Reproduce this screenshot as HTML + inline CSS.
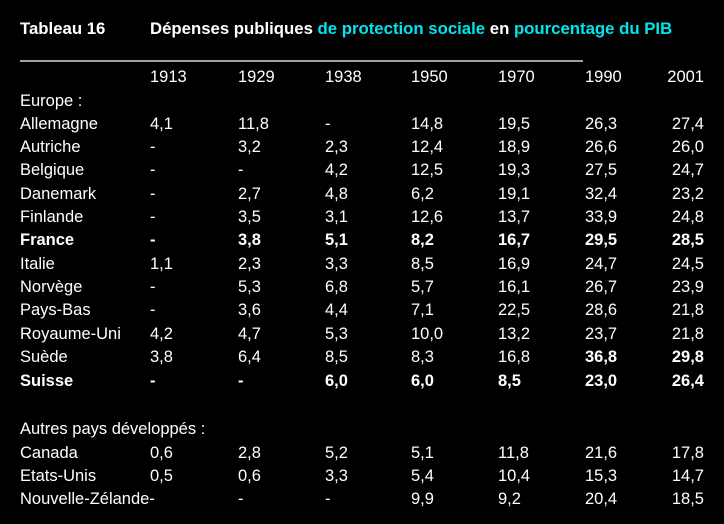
<!DOCTYPE html>
<html><head><meta charset="utf-8"><style>
body{margin:0;background:#000;width:724px;height:524px;overflow:hidden;position:relative;font-family:"Liberation Sans",Arial,sans-serif;font-size:16.5px;color:#fff}
.r{position:absolute;left:0;width:724px;height:20px;line-height:20px}
.r span{position:absolute;white-space:nowrap}
.b{font-weight:bold}
.c{color:#00e5ee}
.l{left:20px}.a{left:150px}.b1{left:238px}.c1{left:325px}.d{left:411px}.e{left:498px}.f{left:585px}.g{right:20px}
</style></head><body>
<div class="r b" style="top:19px;font-size:16.75px"><span class="l">Tableau 16</span><span class="a">Dépenses publiques <span class="c" style="position:static">de protection sociale</span> en <span class="c" style="position:static">pourcentage du PIB</span></span></div>
<div style="position:absolute;left:20px;top:60px;width:563px;height:2px;background:#a0a0a0"></div>
<div class="r" style="top:67px"><span class="a">1913</span><span class="b1">1929</span><span class="c1">1938</span><span class="d">1950</span><span class="e">1970</span><span class="f">1990</span><span class="g">2001</span></div>
<div class="r" style="top:91px"><span class="l">Europe :</span></div>
<div class="r" style="top:114px"><span class="l">Allemagne</span><span class="a">4,1</span><span class="b1">11,8</span><span class="c1">-</span><span class="d">14,8</span><span class="e">19,5</span><span class="f">26,3</span><span class="g">27,4</span></div>
<div class="r" style="top:137px"><span class="l">Autriche</span><span class="a">-</span><span class="b1">3,2</span><span class="c1">2,3</span><span class="d">12,4</span><span class="e">18,9</span><span class="f">26,6</span><span class="g">26,0</span></div>
<div class="r" style="top:160px"><span class="l">Belgique</span><span class="a">-</span><span class="b1">-</span><span class="c1">4,2</span><span class="d">12,5</span><span class="e">19,3</span><span class="f">27,5</span><span class="g">24,7</span></div>
<div class="r" style="top:184px"><span class="l">Danemark</span><span class="a">-</span><span class="b1">2,7</span><span class="c1">4,8</span><span class="d">6,2</span><span class="e">19,1</span><span class="f">32,4</span><span class="g">23,2</span></div>
<div class="r" style="top:207px"><span class="l">Finlande</span><span class="a">-</span><span class="b1">3,5</span><span class="c1">3,1</span><span class="d">12,6</span><span class="e">13,7</span><span class="f">33,9</span><span class="g">24,8</span></div>
<div class="r b" style="top:230px"><span class="l">France</span><span class="a">-</span><span class="b1">3,8</span><span class="c1">5,1</span><span class="d">8,2</span><span class="e">16,7</span><span class="f">29,5</span><span class="g">28,5</span></div>
<div class="r" style="top:254px"><span class="l">Italie</span><span class="a">1,1</span><span class="b1">2,3</span><span class="c1">3,3</span><span class="d">8,5</span><span class="e">16,9</span><span class="f">24,7</span><span class="g">24,5</span></div>
<div class="r" style="top:277px"><span class="l">Norvège</span><span class="a">-</span><span class="b1">5,3</span><span class="c1">6,8</span><span class="d">5,7</span><span class="e">16,1</span><span class="f">26,7</span><span class="g">23,9</span></div>
<div class="r" style="top:300px"><span class="l">Pays-Bas</span><span class="a">-</span><span class="b1">3,6</span><span class="c1">4,4</span><span class="d">7,1</span><span class="e">22,5</span><span class="f">28,6</span><span class="g">21,8</span></div>
<div class="r" style="top:324px"><span class="l">Royaume-Uni</span><span class="a">4,2</span><span class="b1">4,7</span><span class="c1">5,3</span><span class="d">10,0</span><span class="e">13,2</span><span class="f">23,7</span><span class="g">21,8</span></div>
<div class="r" style="top:347px"><span class="l">Suède</span><span class="a">3,8</span><span class="b1">6,4</span><span class="c1">8,5</span><span class="d">8,3</span><span class="e">16,8</span><span class="f b">36,8</span><span class="g b">29,8</span></div>
<div class="r b" style="top:371px"><span class="l">Suisse</span><span class="a">-</span><span class="b1">-</span><span class="c1">6,0</span><span class="d">6,0</span><span class="e">8,5</span><span class="f">23,0</span><span class="g">26,4</span></div>
<div class="r" style="top:419px"><span class="l">Autres pays développés :</span></div>
<div class="r" style="top:443px"><span class="l">Canada</span><span class="a">0,6</span><span class="b1">2,8</span><span class="c1">5,2</span><span class="d">5,1</span><span class="e">11,8</span><span class="f">21,6</span><span class="g">17,8</span></div>
<div class="r" style="top:466px"><span class="l">Etats-Unis</span><span class="a">0,5</span><span class="b1">0,6</span><span class="c1">3,3</span><span class="d">5,4</span><span class="e">10,4</span><span class="f">15,3</span><span class="g">14,7</span></div>
<div class="r" style="top:489px"><span class="l">Nouvelle-Zélande-</span><span class="b1">-</span><span class="c1">-</span><span class="d">9,9</span><span class="e">9,2</span><span class="f">20,4</span><span class="g">18,5</span></div>
</body></html>
